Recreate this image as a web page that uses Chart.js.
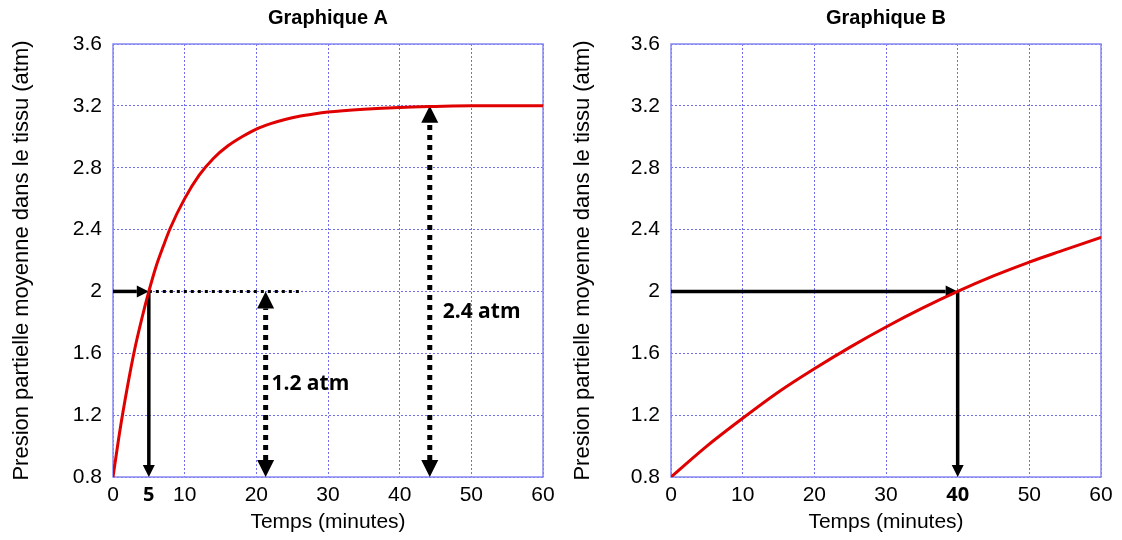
<!DOCTYPE html>
<html>
<head>
<meta charset="utf-8">
<script src="https://cdn.jsdelivr.net/npm/chart.js@4/dist/chart.umd.min.js"></script>
<style>
  body { margin: 0; background: #fff; }
  .wrap { display: flex; width: 1122px; height: 540px; }
  .box { position: relative; width: 561px; height: 540px; }
</style>
</head>
<body>
<div class="wrap">
  <div class="box"><canvas id="chartA"></canvas></div>
  <div class="box"><canvas id="chartB"></canvas></div>
</div>
<script>
// curve readings (minutes, atm)
var timeA = [0, 1, 2, 3, 4, 5, 6, 7, 8, 10, 12, 14, 16, 18, 20, 22, 24, 26, 28, 30, 35, 40, 45, 50, 55, 60];
var presA = [0.8, 1.11, 1.38, 1.62, 1.82, 2.0, 2.16, 2.29, 2.41, 2.6, 2.75, 2.86, 2.94, 3.0, 3.05, 3.085, 3.112, 3.133, 3.148, 3.16, 3.178, 3.19, 3.196, 3.2, 3.2, 3.2];
var timeB = [0, 5, 10, 15, 20, 25, 30, 35, 40, 45, 50, 55, 60];
var presB = [0.8, 1.0, 1.18, 1.35, 1.5, 1.64, 1.77, 1.89, 2.0, 2.1, 2.19, 2.27, 2.35];

var xTicks = [0, 10, 20, 30, 40, 50, 60];
var yTicks = [0.8, 1.2, 1.6, 2, 2.4, 2.8, 3.2, 3.6];

// arrows: [x1, y1, x2, y2, dotted, both heads]
var arrowsA = [
  [0, 2, 5, 2, false, false],
  [5, 2, 5, 0.8, false, false],
  [21.3, 0.8, 21.3, 2, true, true],
  [44.2, 0.8, 44.2, 3.2, true, true]
];
var dottedLinesA = [[5, 2, 26.5, 2]];
var labelsA = [["1.2 atm", 22.1, 1.40], ["2.4 atm", 46.0, 1.87]];
var arrowsB = [
  [0, 2, 40, 2, false, false],
  [40, 2, 40, 0.8, false, false]
];

var normalFont = { family: "'Liberation Sans', Arial, sans-serif", size: 21 };
var yTitleFont = { family: "'Liberation Sans', Arial, sans-serif", size: 22 };
var boldFont = { family: "'Open Sans', sans-serif", size: 20, weight: 'bold' };

function head(ctx, x, y, ang, len, wid) {
  ctx.save();
  ctx.translate(x, y);
  ctx.rotate(ang);
  ctx.beginPath();
  ctx.moveTo(0, 0);
  ctx.lineTo(-len, -wid / 2);
  ctx.lineTo(-len, wid / 2);
  ctx.closePath();
  ctx.fill();
  ctx.restore();
}

var marksPlugin = {
  id: 'marks',
  beforeDatasetsDraw: function (chart, args, opts) {
    var ctx = chart.ctx, xs = chart.scales.x, ys = chart.scales.y, a = chart.chartArea;
    ctx.save();
    ctx.strokeStyle = '#8888f2';
    ctx.lineWidth = 1.5;
    ctx.strokeRect(a.left, a.top, a.right - a.left, a.bottom - a.top);
    ctx.fillStyle = '#000';
    ctx.strokeStyle = '#000';
    (opts.lines || []).forEach(function (l) {
      ctx.save();
      ctx.lineWidth = 3;
      ctx.setLineDash([3, 4]);
      ctx.beginPath();
      ctx.moveTo(xs.getPixelForValue(l[0]), ys.getPixelForValue(l[1]));
      ctx.lineTo(xs.getPixelForValue(l[2]), ys.getPixelForValue(l[3]));
      ctx.stroke();
      ctx.restore();
    });
    (opts.arrows || []).forEach(function (r) {
      var x1 = xs.getPixelForValue(r[0]), y1 = ys.getPixelForValue(r[1]);
      var x2 = xs.getPixelForValue(r[2]), y2 = ys.getPixelForValue(r[3]);
      var ang = Math.atan2(y2 - y1, x2 - x1);
      var len = r[4] ? 17 : 12, wid = r[4] ? 17 : 12;
      var ux = Math.cos(ang), uy = Math.sin(ang);
      var sx = r[5] ? x1 + ux * len : x1, sy = r[5] ? y1 + uy * len : y1;
      var ex = x2 - ux * len, ey = y2 - uy * len;
      ctx.save();
      if (r[4]) {
        ctx.lineWidth = 5;
        ctx.setLineDash([5, 5]);
      } else {
        ctx.lineWidth = 3.5;
      }
      ctx.beginPath();
      ctx.moveTo(sx, sy);
      ctx.lineTo(ex, ey);
      ctx.stroke();
      ctx.restore();
      head(ctx, x2, y2, ang, len, wid);
      if (r[5]) head(ctx, x1, y1, ang + Math.PI, len, wid);
    });
    ctx.font = "bold 21px 'Open Sans', sans-serif";
    ctx.textBaseline = 'middle';
    ctx.textAlign = 'left';
    (opts.labels || []).forEach(function (t) {
      ctx.fillText(t[0], xs.getPixelForValue(t[1]), ys.getPixelForValue(t[2]));
    });
    ctx.restore();
  }
};

function makeChart(id, title, xs, ys, arrows, lines, labels, boldTick, extraTick, yWidth, padR) {
  new Chart(document.getElementById(id), {
    type: 'line',
    data: {
      datasets: [{
        data: xs.map(function (x, i) { return { x: x, y: ys[i] }; }),
        borderColor: '#e00000',
        borderWidth: 3,
        pointRadius: 0,
        cubicInterpolationMode: 'monotone',
        fill: false
      }]
    },
    plugins: [marksPlugin],
    options: {
      responsive: true,
      maintainAspectRatio: false,
      animation: false,
      layout: { padding: { left: 0, right: padR, top: 0, bottom: 0 } },
      plugins: {
        legend: { display: false },
        tooltip: { enabled: false },
        title: {
          display: true,
          fullSize: false,
          text: title,
          color: '#000',
          font: { family: "'Liberation Sans', Arial, sans-serif", size: 20, weight: 'bold' },
          padding: { top: 6, bottom: 14 }
        },
        marks: { arrows: arrows, lines: lines, labels: labels }
      },
      scales: {
        x: {
          type: 'linear',
          min: 0, max: 60,
          afterBuildTicks: function (s) {
            var t = xTicks.slice();
            if (extraTick !== null) t.push(extraTick);
            t.sort(function (a, b) { return a - b; });
            s.ticks = t.map(function (v) { return { value: v }; });
          },
          afterFit: function (s) { s.height = 63; },
          grid: {
            drawTicks: false,
            color: function (c) {
              return (c.tick && c.tick.value === extraTick) ? 'rgba(0,0,0,0)' : '#6f6ff0';
            },
            lineWidth: 1
          },
          border: { display: false, dash: [2, 2] },
          ticks: {
            padding: 6,
            color: '#000',
            autoSkip: false,
            maxRotation: 0,
            font: function (c) {
              return (c.tick && c.tick.value === boldTick) ? boldFont : normalFont;
            },
            callback: function (v) { return String(v); }
          },
          title: {
            display: true,
            text: 'Temps (minutes)',
            color: '#000',
            font: normalFont,
            padding: { top: 0, bottom: 5 }
          }
        },
        y: {
          type: 'linear',
          min: 0.8, max: 3.6,
          afterBuildTicks: function (s) {
            s.ticks = yTicks.map(function (v) { return { value: v }; });
          },
          afterFit: function (s) { s.width = yWidth; },
          grid: { drawTicks: false, color: '#6f6ff0', lineWidth: 1 },
          border: { display: false, dash: [2, 2] },
          ticks: {
            padding: 11,
            color: '#000',
            font: normalFont,
            callback: function (v) { return String(Math.round(v * 10) / 10); }
          },
          title: {
            display: true,
            text: 'Presion partielle moyenne dans le tissu (atm)',
            color: '#000',
            font: yTitleFont,
            padding: { top: 9, bottom: 4 }
          }
        }
      }
    }
  });
}

makeChart('chartA', 'Graphique A', timeA, presA, arrowsA, dottedLinesA, labelsA, 5, 5, 113, 18);
makeChart('chartB', 'Graphique B', timeB, presB, arrowsB, [], [], 40, null, 110, 21);
</script>
</body>
</html>
